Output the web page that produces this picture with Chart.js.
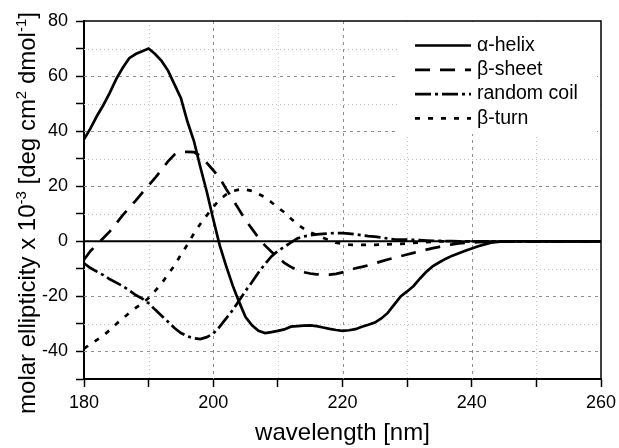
<!DOCTYPE html>
<html>
<head>
<meta charset="utf-8">
<script src="https://cdn.jsdelivr.net/npm/chart.js@4.4.1/dist/chart.umd.min.js"></script>
<style>
  body { margin: 0; background: #fff; }
  #wrap { width: 619px; height: 448px; }
</style>
</head>
<body>
<div id="wrap"><canvas id="canvas"></canvas></div>
<script>
// wavelength in nm
var wavelengths = [180,181,182,183,184,185,186,187,188,189,190,191,192,193,194,195,196,197,198,199,
  200,201,202,203,204,205,206,207,208,209,210,211,212,213,214,215,216,217,218,219,
  220,221,222,223,224,225,226,227,228,229,230,231,232,233,234,235,236,237,238,239,
  240,241,242,243,244,245,250,255,260];

var alphaHelix = [37,41,45.5,49.5,54,59,63,66.5,68,69,70,68,65.5,62,57,52,43.5,36.5,27,18,
  8,-1.5,-9,-16,-22,-27.5,-30.5,-32.5,-33.3,-33,-32.5,-32,-31,-30.8,-30.6,-30.5,-30.8,-31.3,-31.8,-32.2,
  -32.5,-32.3,-31.9,-31,-30.3,-29.5,-28,-26,-23,-20,-18.2,-16.2,-13.5,-11,-9,-7.6,-6.3,-5.2,-4.3,-3.4,
  -2.6,-1.8,-1.1,-0.5,-0.2,0,0,0,0];

var betaSheet = [-6.7,-3.5,-1.2,1.2,3.6,6.5,9.5,12.2,14.8,17.6,20.3,23,26,29,31.5,32.5,32.5,32.4,31,28.5,
  25.8,23,19,15.3,11.5,7.7,4.5,1.3,-1.5,-3.8,-5.8,-7.8,-9.3,-10.4,-11.2,-11.7,-12,-12.1,-12.1,-11.8,
  -11.3,-10.5,-9.8,-9.3,-8.7,-8,-7.3,-6.6,-6,-5.4,-4.8,-4.2,-3.6,-3,-2.5,-2,-1.5,-1.1,-0.8,-0.6,
  -0.4,-0.3,-0.2,-0.1,0,0,0,0,0];

var randomCoil = [-8,-9.7,-11,-12.3,-13.8,-15,-16.3,-17.8,-19.5,-20.8,-22.5,-24.8,-27,-29.2,-31.5,-33.3,-34.5,-35.2,-35.5,-34.8,
  -33.5,-31,-28,-25,-21.5,-18,-14.8,-11.3,-8.3,-5.5,-3.5,-2,-0.5,1,1.8,2.2,2.5,2.7,2.9,3,
  3,2.8,2.5,2.2,1.9,1.7,1.4,1,0.7,0.6,0.6,0.5,0.4,0.3,0.2,0.2,0.1,0.1,0,0,
  0,0,0,0,0,0,0,0,0];

var betaTurn = [-39,-37.3,-35.8,-34.2,-32.2,-30,-28,-26,-24.2,-22.5,-20.6,-18,-15.3,-12,-8.8,-4.8,-1.2,2.8,6.3,9.4,
  12.5,15.2,17,18.2,18.8,18.8,18.3,17.2,16,14.2,12.3,10.5,8.3,6.2,4.6,3.3,2.3,1.3,0.3,-0.5,
  -0.9,-1.2,-1.3,-1.3,-1.3,-1.3,-1.2,-1.1,-1,-0.9,-0.8,-0.6,-0.5,-0.3,-0.2,0,0,0,0,0,
  0,0,0,0,0,0,0,0,0];

var seriesNames = ["α-helix", "β-sheet", "random coil", "β-turn"];
var xTickLabels = [180, 200, 220, 240, 260];
var yTickLabels = [-40, -20, 0, 20, 40, 60, 80];

var FONT = "'Liberation Sans', Arial, sans-serif";

function points(values){
  var out = [];
  for (var i = 0; i < wavelengths.length; i++) out.push({x: wavelengths[i], y: values[i]});
  return out;
}

function gridLine(ctx, x1, y1, x2, y2, major){
  ctx.beginPath();
  ctx.strokeStyle = major ? '#8c8c8c' : '#c0c0c0';
  ctx.setLineDash(major ? [3, 4] : [1, 3]);
  ctx.moveTo(x1, y1);
  ctx.lineTo(x2, y2);
  ctx.stroke();
}

var decor = {
  id: 'decor',
  beforeDatasetsDraw: function(chart){
    var ctx = chart.ctx, a = chart.chartArea;
    var xs = chart.scales.x, ys = chart.scales.y;
    ctx.save();
    ctx.lineWidth = 1;
    for (var v = 190; v < 260; v += 10) {
      var px = Math.round(xs.getPixelForValue(v)) + 0.5;
      gridLine(ctx, px, a.top, px, a.bottom, v % 20 === 0);
    }
    for (var w = -40; w < 80; w += 10) {
      if (w === 0) continue;
      var py = Math.round(ys.getPixelForValue(w)) + 0.5;
      gridLine(ctx, a.left, py, a.right, py, w % 20 === 0);
    }
    // legend backing
    ctx.fillStyle = '#fff';
    ctx.fillRect(397, a.top + 1, 200, 112);
    // zero line
    ctx.setLineDash([]);
    ctx.strokeStyle = '#000';
    ctx.lineWidth = 2;
    var zy = ys.getPixelForValue(0);
    ctx.beginPath();
    ctx.moveTo(a.left, zy);
    ctx.lineTo(a.right, zy);
    ctx.stroke();
    ctx.restore();
  },
  afterDatasetsDraw: function(chart){
    var ctx = chart.ctx, a = chart.chartArea;
    ctx.save();
    // frame top/right
    ctx.strokeStyle = '#000';
    ctx.lineWidth = 1.5;
    ctx.beginPath();
    ctx.moveTo(a.left, a.top);
    ctx.lineTo(a.right, a.top);
    ctx.lineTo(a.right, a.bottom);
    ctx.stroke();

    // legend
    ctx.font = '19.5px ' + FONT;
    ctx.fillStyle = '#000';
    ctx.textBaseline = 'middle';
    chart.data.datasets.forEach(function(ds, i){
      var ry = 45.5 + i * 24.3;
      ctx.beginPath();
      ctx.lineWidth = ds.borderWidth;
      ctx.setLineDash(ds.borderDash || []);
      ctx.moveTo(415, ry);
      ctx.lineTo(471, ry);
      ctx.stroke();
      ctx.setLineDash([]);
      ctx.fillText(ds.label, 477, ry);
    });

    // x title
    ctx.textBaseline = 'alphabetic';
    ctx.textAlign = 'center';
    ctx.font = '24px ' + FONT;
    ctx.fillText('wavelength [nm]', (a.left + a.right) / 2, 440);

    // y title with superscripts
    var parts = [
      ['molar ellipticity x 10', false], ['-3', true], [' [deg cm', false],
      ['2', true], [' dmol', false], ['-1', true], [']', false]
    ];
    var mainFont = '24px ' + FONT, supFont = '15px ' + FONT;
    var total = 0;
    parts.forEach(function(p){ ctx.font = p[1] ? supFont : mainFont; total += ctx.measureText(p[0]).width; });
    ctx.translate(35, 213);
    ctx.rotate(-Math.PI / 2);
    ctx.textAlign = 'left';
    var cx = -total / 2;
    parts.forEach(function(p){
      ctx.font = p[1] ? supFont : mainFont;
      ctx.fillText(p[0], cx, p[1] ? -9 : 0);
      cx += ctx.measureText(p[0]).width;
    });
    ctx.restore();
  }
};

var lineStyle = function(label, values, dash){
  return {
    label: label,
    data: points(values),
    borderColor: '#000',
    borderWidth: 2.7,
    borderDash: dash,
    pointRadius: 0,
    tension: 0,
    fill: false
  };
};

var tickFont = { family: FONT, size: 18 };

var chart = new Chart(document.getElementById('canvas'), {
  type: 'line',
  data: {
    datasets: [
      lineStyle(seriesNames[0], alphaHelix, []),
      lineStyle(seriesNames[1], betaSheet, [15, 10]),
      lineStyle(seriesNames[2], randomCoil, [16, 4, 3, 4]),
      lineStyle(seriesNames[3], betaTurn, [5, 8])
    ]
  },
  options: {
    responsive: true,
    maintainAspectRatio: false,
    animation: false,
    layout: { padding: { left: 0, top: 21, right: 18, bottom: 0 } },
    plugins: { legend: { display: false }, tooltip: { enabled: false } },
    scales: {
      x: {
        type: 'linear', min: 180, max: 260,
        afterFit: function(s){ s.height = 69; s.paddingRight = 0; s.paddingLeft = 0; },
        ticks: {
          stepSize: 10, autoSkip: false, maxRotation: 0, color: '#000', font: tickFont, padding: 5,
          callback: function(v){ return xTickLabels.indexOf(v) >= 0 ? String(v) : ''; }
        },
        grid: { drawOnChartArea: false, drawTicks: true, tickLength: 8, tickColor: '#000', tickWidth: 1.5 },
        border: { color: '#000', width: 2 }
      },
      y: {
        type: 'linear', min: -50, max: 80,
        afterFit: function(s){ s.width = 84; s.paddingTop = 0; s.paddingBottom = 0; },
        ticks: {
          stepSize: 10, autoSkip: false, color: '#000', font: tickFont, padding: 8,
          callback: function(v){ return yTickLabels.indexOf(v) >= 0 ? String(v) : ''; }
        },
        grid: { drawOnChartArea: false, drawTicks: true, tickLength: 8, tickColor: '#000', tickWidth: 1.5 },
        border: { color: '#000', width: 2 }
      }
    }
  },
  plugins: [decor]
});
</script>
</body>
</html>
